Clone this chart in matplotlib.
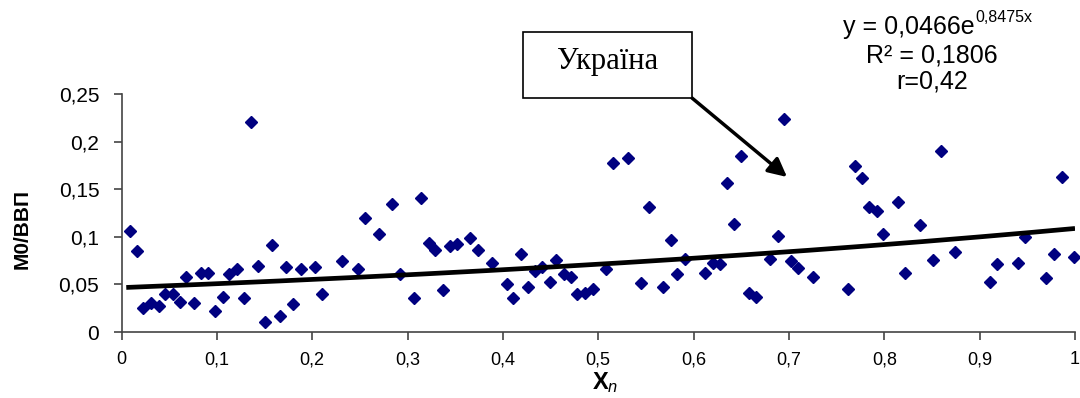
import numpy as np
import matplotlib.pyplot as plt
from matplotlib.patches import Rectangle

plt.rcParams['font.family'] = ['Liberation Sans', 'DejaVu Sans']
plt.rcParams['mathtext.fontset'] = 'custom'
plt.rcParams['mathtext.rm'] = 'Liberation Sans'
plt.rcParams['mathtext.it'] = 'Liberation Sans:italic'
plt.rcParams['mathtext.bf'] = 'Liberation Sans:bold'

# scatter data
x_n = [0.009, 0.016, 0.023, 0.031, 0.039, 0.046, 0.054, 0.061, 0.068, 0.076,
       0.083, 0.091, 0.098, 0.106, 0.113, 0.121, 0.128, 0.136, 0.143, 0.150,
       0.158, 0.166, 0.173, 0.180, 0.188, 0.203, 0.210, 0.231, 0.248, 0.255,
       0.270, 0.284, 0.292, 0.307, 0.314, 0.322, 0.329, 0.337, 0.344, 0.352,
       0.366, 0.374, 0.389, 0.404, 0.411, 0.419, 0.426, 0.434, 0.441, 0.449,
       0.456, 0.464, 0.471, 0.478, 0.486, 0.494, 0.508, 0.515, 0.531, 0.545,
       0.553, 0.568, 0.576, 0.583, 0.591, 0.612, 0.620, 0.628, 0.635, 0.642,
       0.650, 0.658, 0.665, 0.680, 0.688, 0.695, 0.702, 0.710, 0.725, 0.762,
       0.769, 0.777, 0.784, 0.792, 0.799, 0.814, 0.822, 0.837, 0.851, 0.859,
       0.874, 0.911, 0.918, 0.940, 0.948, 0.970, 0.978, 0.986, 0.999]
m0_vvp = [0.106, 0.085, 0.025, 0.030, 0.027, 0.040, 0.040, 0.032, 0.058, 0.030,
          0.062, 0.062, 0.022, 0.037, 0.061, 0.066, 0.036, 0.221, 0.069, 0.010,
          0.091, 0.017, 0.068, 0.029, 0.066, 0.068, 0.040, 0.075, 0.066, 0.120,
          0.103, 0.134, 0.061, 0.036, 0.141, 0.094, 0.086, 0.044, 0.090, 0.092,
          0.099, 0.086, 0.072, 0.050, 0.036, 0.082, 0.047, 0.064, 0.068, 0.053,
          0.076, 0.061, 0.058, 0.040, 0.041, 0.045, 0.066, 0.177, 0.183, 0.051,
          0.131, 0.047, 0.097, 0.061, 0.077, 0.062, 0.073, 0.071, 0.156, 0.113,
          0.185, 0.041, 0.037, 0.077, 0.101, 0.224, 0.075, 0.067, 0.058, 0.045,
          0.174, 0.162, 0.131, 0.127, 0.103, 0.137, 0.062, 0.112, 0.076, 0.190,
          0.084, 0.053, 0.071, 0.072, 0.100, 0.057, 0.082, 0.163, 0.079]

# exponential trend from the equation on the chart
trend_a = 0.0466
trend_b = 0.8475

x_ticks = [0, 0.1, 0.2, 0.3, 0.4, 0.5, 0.6, 0.7, 0.8, 0.9, 1]
x_labels = ["0", "0,1", "0,2", "0,3", "0,4", "0,5", "0,6", "0,7", "0,8", "0,9", "1"]
y_ticks = [0, 0.05, 0.1, 0.15, 0.2, 0.25]
y_labels = ["0", "0,05", "0,1", "0,15", "0,2", "0,25"]

W, H = 1080, 398
fig = plt.figure(figsize=(W / 100, H / 100), dpi=100)
ax = fig.add_axes([121.5 / W, 1 - 332 / H, 953.5 / W, 238 / H])

ax.plot(x_n, m0_vvp, linestyle='none', marker='D', markersize=6.5,
        color='#000080', clip_on=False, zorder=3)

xt = np.linspace(0.005, 1, 200)
ax.plot(xt, trend_a * np.exp(trend_b * xt), color='black', linewidth=3.4,
        solid_capstyle='butt', zorder=4)

ax.set_xlim(0, 1)
ax.set_ylim(0, 0.25)
ax.set_xticks(x_ticks)
ax.set_xticklabels(x_labels, fontsize=13)
ax.set_yticks(y_ticks)
ax.set_yticklabels(y_labels, fontsize=15)

for s in ['top', 'right']:
    ax.spines[s].set_visible(False)
for s in ['left', 'bottom']:
    ax.spines[s].set_color('#444444')
    ax.spines[s].set_linewidth(1.2)
ax.tick_params(axis='both', direction='out', length=6, width=1.2, color='#444444')
ax.tick_params(axis='x', pad=8)
ax.tick_params(axis='y', pad=10)

ax.set_ylabel("М0/ВВП", fontsize=15, fontweight='bold')
ax.yaxis.set_label_coords(-0.094, 0.433)
ax.set_xlabel(r"$\mathbf{X}_{\mathit{n}}$", fontsize=17)
ax.xaxis.set_label_coords(0.507, -0.16)

# equation text
fig.text(975 / W, 1 - 27 / H, "y = 0,0466e", fontsize=18,
         ha='right', va='center')
fig.text(975 / W, 1 - 17 / H, "0,8475x", fontsize=11.5, ha='left', va='center')
fig.text(932 / W, 1 - 55 / H, "R² = 0,1806", fontsize=18, ha='center', va='center')
fig.text(932 / W, 1 - 82 / H, "r=0,42", fontsize=18, ha='center', va='center')

# callout box with arrow
fig.patches.append(Rectangle((523 / W, 1 - 98 / H), 169 / W, 66 / H,
                             transform=fig.transFigure, facecolor='white',
                             edgecolor='black', linewidth=1.2))
fig.text(608 / W, 1 - 61 / H, "Україна", fontsize=22, ha='center', va='center',
         family=['Liberation Serif', 'DejaVu Serif'])
ax.annotate("", xy=(787, H - 177), xycoords='figure pixels',
            xytext=(692, H - 98), textcoords='figure pixels',
            arrowprops=dict(arrowstyle='-|>', lw=2.5, color='black',
                            mutation_scale=28, shrinkA=0, shrinkB=0))

fig.savefig("out.png", dpi=100)
